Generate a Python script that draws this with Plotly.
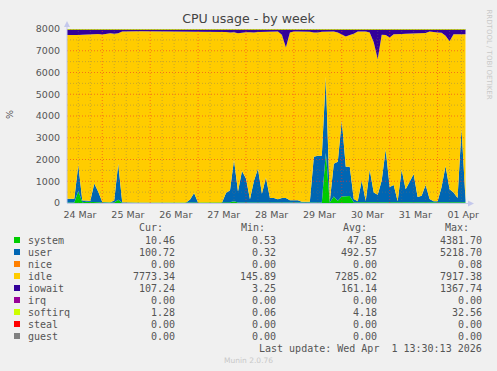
import pandas as pd
import plotly.graph_objects as go

# ---------------- data (2-hourly samples) ----------------
start_time = "2026-03-24 05:10"
n_points = 101

system = [20,20,20,550,40,60,50,20,20,20,
          20,20,20,150,15,15,15,15,15,15,
          15,15,15,15,15,15,15,15,15,15,
          15,15,15,15,15,15,15,15,15,15,
          15,40,80,25,25,25,25,25,25,25,
          25,25,25,25,25,25,25,25,25,25,
          25,25,25,25,25,2300,20,300,100,300,
          320,320,30,30,30,30,30,30,30,30,
          60,30,30,30,30,30,30,30,30,30,
          30,30,30,30,30,50,30,30,30,30,
          30]
user = [180,180,170,1200,80,60,40,880,500,30,
        10,10,100,1650,20,10,10,10,10,10,
        10,10,10,10,10,10,10,10,10,10,
        10,150,450,10,10,10,10,10,10,10,
        450,550,1900,500,1450,1100,150,1000,1550,400,
        1150,210,210,150,200,200,100,100,100,30,
        30,30,2100,2150,2150,3500,60,1500,1800,3500,
        1350,1350,150,50,1000,60,1500,450,350,1000,
        2400,700,800,50,1500,600,950,1300,250,300,
        800,150,50,50,700,1650,600,450,200,3400,
        100]
idle = [7526,7516,7516,5976,7616,7626,7656,6886,7246,7696,
        7756,7776,7666,6006,7851,7871,7871,7871,7871,7871,
        7871,7871,7871,7871,7871,7871,7871,7871,7871,7871,
        7871,7731,7431,7871,7871,7871,7871,7871,7871,7871,
        7401,7246,5876,7281,6361,6721,7681,6811,6291,7451,
        6711,7651,7651,7711,7511,6921,7711,7761,7761,7831,
        7831,7821,5711,5661,5701,2086,7806,6086,5936,3936,
        5986,6056,7606,7806,6856,7796,6306,6906,6246,6706,
        5266,6876,6926,7666,6236,7146,6806,6456,7516,7476,
        6986,7706,7766,7756,7096,5986,6806,7276,7526,4336,
        7626]
iowait = [260,270,280,260,250,240,240,200,220,240,
          200,180,200,180,100,90,90,90,90,90,
          90,90,90,90,90,90,90,90,90,90,
          90,90,90,90,90,90,90,90,90,90,
          120,150,130,180,150,140,130,150,120,110,
          100,100,100,100,250,840,150,100,100,100,
          100,110,150,150,110,100,100,100,150,250,
          330,260,200,100,100,100,150,600,1360,250,
          260,380,230,240,220,210,200,200,190,180,
          170,100,140,150,160,300,550,230,230,220,
          230]
softirq = [4,4,5,4,4,4,4,5,4,4,
           4,4,4,5,4,3,3,3,3,3,
           3,3,3,3,3,3,3,3,3,3,
           3,4,4,3,3,3,3,3,3,3,
           4,4,6,4,5,5,4,5,5,4,
           5,4,4,4,4,4,4,4,4,3,
           3,3,6,6,6,9,4,6,6,8,
           6,6,4,4,5,4,5,4,4,5,
           6,4,4,4,5,4,4,5,4,4,
           4,4,4,4,4,5,4,4,4,6,
           4]

day_labels = ["24 Mar","25 Mar","26 Mar","27 Mar","28 Mar","29 Mar","30 Mar","31 Mar","01 Apr"]
y_ticks = [0,1000,2000,3000,4000,5000,6000,7000,8000]

legend_names = ["system","user","nice","idle","iowait","irq","softirq","steal","guest"]
legend_colors = ["#00CC00","#0066B3","#FF8000","#FFCC00","#330099","#990099","#CCFF00","#FF0000","#808080"]
cur_vals = ["10.46","100.72","0.00","7773.34","107.24","0.00","1.28","0.00","0.00"]
min_vals = ["0.53","0.32","0.00","145.89","3.25","0.00","0.06","0.00","0.00"]
avg_vals = ["47.85","492.57","0.00","7285.02","161.14","0.00","4.18","0.00","0.00"]
max_vals = ["4381.70","5218.70","0.08","7917.38","1367.74","0.00","32.56","0.00","0.00"]
last_update = "Last update: Wed Apr  1 13:30:13 2026"

# ---------------- geometry ----------------
W, H = 497, 371
L, R, T, B = 67, 31, 29, 168
PW, PH = W - L - R, H - T - B

def px(x):
    return (x - L) / PW

def py(y):
    return (H - B - y) / PH

times = pd.date_range(start_time, periods=n_points, freq="2h")
x_range = [pd.Timestamp("2026-03-24 05:30"), pd.Timestamp("2026-04-01 13:24")]

fig = go.Figure()
stack = [("system", system, "#00CC00"), ("user", user, "#0066B3"),
         ("idle", idle, "#FFCC00"), ("iowait", iowait, "#330099"),
         ("softirq", softirq, "#CCFF00")]
for name, vals, col in stack:
    fig.add_trace(go.Scatter(
        x=times, y=vals, name=name, mode="lines", stackgroup="one",
        line=dict(width=1 if name == "softirq" else 0, color=col),
        fillcolor=col, showlegend=False, hoverinfo="skip"))

MAJ = "rgba(240,50,40,0.6)"
MIN = "rgba(120,110,100,0.4)"
shapes = []
# vertical grid (every 6 h, major at day boundary)
t = pd.Timestamp(start_time)
while t <= x_range[1]:
    if t >= x_range[0]:
        major = t.hour == 23
        shapes.append(dict(type="line", xref="x", yref="paper", x0=t, x1=t, y0=0, y1=1,
                           layer="above",
                           line=dict(color=MAJ if major else MIN, width=1, dash="1px,2px")))
    t += pd.Timedelta(hours=6)
# horizontal grid
for v in range(500, 8001, 500):
    major = v % 1000 == 0
    shapes.append(dict(type="line", xref="paper", yref="y", x0=0, x1=1, y0=v, y1=v,
                       layer="above",
                       line=dict(color=MAJ if major else MIN, width=1, dash="1px,2px")))
# axes + arrows
axc = "#C4C8EC"
shapes.append(dict(type="line", xref="paper", yref="paper", x0=px(67), x1=px(67),
                   y0=py(203), y1=py(26), line=dict(color=axc, width=1), layer="above"))
shapes.append(dict(type="line", xref="paper", yref="paper", x0=px(67), x1=px(469),
                   y0=py(203.5), y1=py(203.5), line=dict(color=axc, width=1), layer="above"))
shapes.append(dict(type="path", xref="paper", yref="paper",
                   path=f"M {px(64)},{py(27)} L {px(70)},{py(27)} L {px(67)},{py(21)} Z",
                   fillcolor=axc, line=dict(width=0), layer="above"))
shapes.append(dict(type="path", xref="paper", yref="paper",
                   path=f"M {px(468)},{py(200.5)} L {px(468)},{py(206.5)} L {px(474)},{py(203.5)} Z",
                   fillcolor=axc, line=dict(width=0), layer="above"))

# legend squares
row_y0 = 240
row_dy = 12
for k, col in enumerate(legend_colors):
    yc = row_y0 + k * row_dy
    shapes.append(dict(type="rect", xref="paper", yref="paper",
                       x0=px(14), x1=px(20), y0=py(yc + 3), y1=py(yc - 3),
                       fillcolor=col, line=dict(width=0)))

ann = []
mono = dict(family="DejaVu Sans Mono", size=10, color="#555555")
for txt, xr in [("Cur:", 165), ("Min:", 267), ("Avg:", 369), ("Max:", 471)]:
    ann.append(dict(text=txt, x=px(xr), y=py(227), xref="paper", yref="paper",
                    xanchor="right", yanchor="middle", showarrow=False, font=mono))
for k, name in enumerate(legend_names):
    yc = row_y0 + k * row_dy
    ann.append(dict(text=name, x=px(25.5), y=py(yc), xref="paper", yref="paper",
                    xanchor="left", yanchor="middle", showarrow=False, font=mono))
    for vals, xr in [(cur_vals, 177), (min_vals, 278), (avg_vals, 379), (max_vals, 484)]:
        ann.append(dict(text=vals[k], x=px(xr), y=py(yc), xref="paper", yref="paper",
                        xanchor="right", yanchor="middle", showarrow=False, font=mono))
ann.append(dict(text=last_update.replace(" ", "&nbsp;"), x=px(484), y=py(348), xref="paper", yref="paper",
                xanchor="right", yanchor="middle", showarrow=False, font=mono))
ann.append(dict(text="Munin 2.0.76", x=px(248.5), y=py(360), xref="paper", yref="paper",
                xanchor="center", yanchor="middle", showarrow=False,
                font=dict(family="DejaVu Sans", size=7.5, color="#C8C8C8")))
ann.append(dict(text="%", x=px(10), y=py(115), xref="paper", yref="paper",
                xanchor="center", yanchor="middle", showarrow=False, textangle=-90,
                font=dict(family="DejaVu Sans", size=9.5, color="#555555")))
ann.append(dict(text="RRDTOOL / TOBI OETIKER", x=px(488.5), y=py(54), xref="paper", yref="paper",
                xanchor="center", yanchor="middle", showarrow=False, textangle=90,
                font=dict(family="DejaVu Sans", size=7, color="#C8C8C8")))

tick_times = pd.date_range("2026-03-24 12:00", periods=len(day_labels), freq="D")

fig.update_layout(
    width=W, height=H, autosize=False,
    margin=dict(l=L, r=R, t=T, b=B, pad=0),
    paper_bgcolor="#F0F0F0", plot_bgcolor="#FFFFFF",
    title=dict(text="CPU usage - by week", x=0.5, xref="container", xanchor="center",
               y=1 - 19 / H, yref="container", yanchor="middle",
               font=dict(family="DejaVu Sans", size=12.6, color="#444444")),
    xaxis=dict(type="date", range=x_range, tickvals=tick_times, ticktext=day_labels,
               showgrid=False, zeroline=False, showline=False, ticks="",
               ticklabelstandoff=4,
               tickfont=dict(family="DejaVu Sans", size=9.5, color="#555555")),
    yaxis=dict(range=[0, 8000], tickvals=y_ticks, ticktext=[str(v) for v in y_ticks],
               showgrid=False, zeroline=False, showline=False, ticks="",
               ticklabelstandoff=6,
               tickfont=dict(family="DejaVu Sans", size=9.5, color="#555555")),
    shapes=shapes, annotations=ann, showlegend=False,
)

fig.write_html("out.html")
